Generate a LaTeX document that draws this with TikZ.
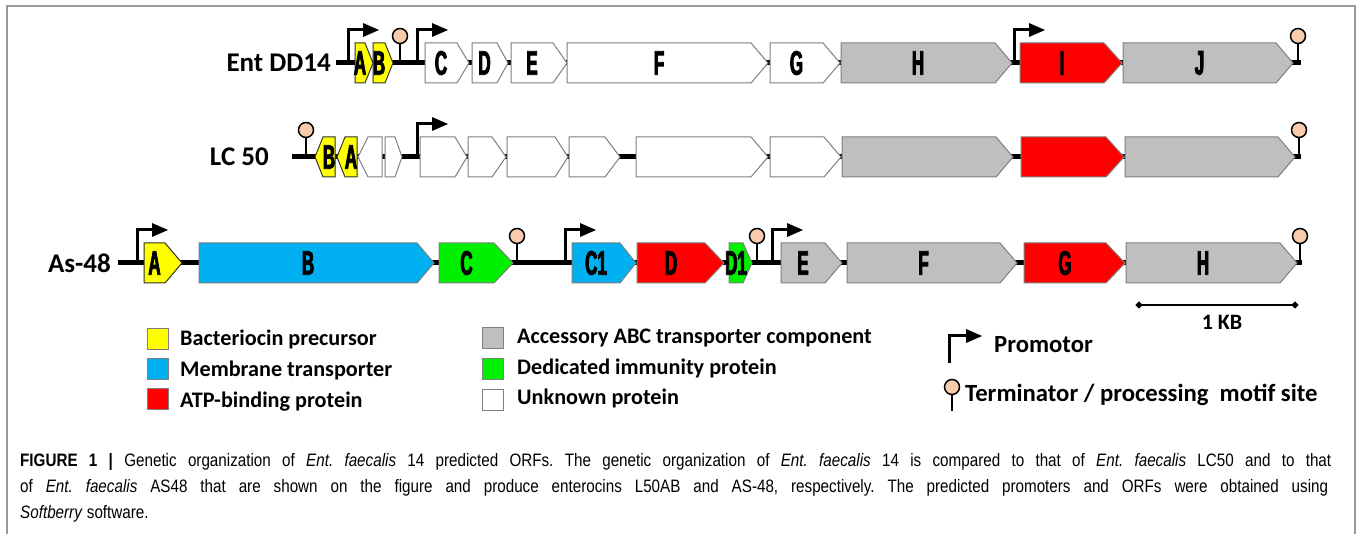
\documentclass[tikz,border=0pt]{standalone}
\usepackage{fontspec}
\setmainfont{Carlito}
\newfontfamily\genefont[FakeStretch=0.5,FakeBold=2.5]{Liberation Sans Bold}
\newfontfamily\capfont[FakeStretch=0.845]{Liberation Sans}
\usetikzlibrary{arrows.meta}
\definecolor{gyellow}{HTML}{FFFF00}
\definecolor{gblue}{HTML}{00B0F0}
\definecolor{gred}{HTML}{FF0000}
\definecolor{ggreen}{HTML}{00F000}
\definecolor{ggrey}{HTML}{BFBFBF}
\definecolor{gout}{HTML}{7F7F7F}
\definecolor{yout}{HTML}{303030}
\definecolor{peach}{HTML}{F8CBAD}
\tikzset{
  gene/.style={draw=gout, line width=1pt, line join=miter},
  glab/.style={font=\genefont\fontsize{34}{34}\selectfont, inner sep=0pt},
  backbone/.style={line width=5pt, black},
  promline/.style={line width=3pt, black},
  stemline/.style={line width=2pt, black},
  termc/.style={draw=black, line width=1.5pt, fill=peach},
  rowlab/.style={font=\bfseries\fontsize{27}{27}\selectfont, anchor=east, inner sep=0pt},
  legsq/.style={draw=gout, line width=1pt, minimum size=21pt, inner sep=0pt},
  legtxt/.style={font=\bfseries\fontsize{22.2}{22.2}\selectfont, anchor=west, inner sep=0pt},
  symtxt/.style={font=\bfseries\fontsize{24.7}{24.7}\selectfont, anchor=west, inner sep=0pt},
  captxt/.style={font=\capfont\fontsize{18}{18}\selectfont\frenchspacing, anchor=west, inner sep=0pt},
  framel/.style={draw=gray!80, line width=1.5pt}
}
% name, x0, x1, yc, head, fill, label
\newcommand\gfwd[7]{%
  \draw[gene,fill=#6] (#2,#4-20) -- (#3-#5,#4-20) -- (#3,#4) -- (#3-#5,#4+20) -- (#2,#4+20) -- cycle;
  \node[glab] (#1) at ({(#2+#3-#5)/2},#4) {#7};}
\newcommand\grev[7]{%
  \draw[gene,fill=#6] (#3,#4-20) -- (#2+#5,#4-20) -- (#2,#4) -- (#2+#5,#4+20) -- (#3,#4+20) -- cycle;
  \node[glab] (#1) at ({(#2+#5+#3)/2},#4) {#7};}
\newcommand\prom[2]{%
  \draw[promline] (#1,#2-2) -- (#1,#2-33) -- (#1+16,#2-33);
  \fill[black] (#1+15,#2-40) -- (#1+31,#2-33) -- (#1+15,#2-26) -- cycle;}
\newcommand\term[2]{%
  \draw[stemline] (#1,#2) -- (#1,#2-20);
  \draw[termc] (#1,#2-27) circle (7.5);}
\begin{document}
\begin{tikzpicture}[x=1pt,y=-1pt]
\useasboundingbox (0,0) rectangle (1360,534);
\fill[white] (0,0) rectangle (1360,534);
\draw[framel] (7,534) -- (7,6) -- (1355,6) -- (1355,534);

% ---------- Row 1: Ent DD14 ----------
\node[rowlab] (lab1) at (331,63) {Ent DD14};
\coordinate (r1s) at (336,63);
\coordinate (r1e) at (1301,63);
\draw[backbone] (r1s) -- (r1e);
\prom{348}{63}
\begin{scope}[gene/.append style={draw=yout}]
\gfwd{a1}{355}{373}{63}{8}{gyellow}{A}
\gfwd{b1}{373}{393}{63}{8}{gyellow}{B}
\end{scope}
\term{400}{63}
\prom{417}{63}
\gfwd{c1}{425}{469}{63}{12}{white}{C}
\gfwd{d1}{472}{508}{63}{11}{white}{D}
\gfwd{e1}{511}{567}{63}{14}{white}{E}
\gfwd{f1}{567}{768}{63}{17}{white}{F}
\gfwd{g1}{770}{840}{63}{17}{white}{G}
\gfwd{h1}{841}{1012}{63}{17}{ggrey}{H}
\prom{1014}{63}
\gfwd{i1}{1020}{1122}{63}{18}{gred}{I}
\gfwd{j1}{1123}{1293}{63}{17}{ggrey}{J}
\term{1298}{63}

% ---------- Row 2: LC 50 ----------
\node[rowlab] (lab2) at (269,157) {LC 50};
\coordinate (r2s) at (292,157);
\coordinate (r2e) at (1301,157);
\draw[backbone] (r2s) -- (r2e);
\term{306}{157}
\begin{scope}[gene/.append style={draw=yout}]
\grev{b2}{315}{335}{157}{8}{gyellow}{B}
\grev{a2}{337}{357}{157}{8}{gyellow}{A}
\end{scope}
\grev{u1}{358}{382}{157}{10}{white}{}
\gfwd{u2}{385}{402}{157}{7}{white}{}
\prom{417}{157}
\gfwd{u3}{420}{467}{157}{12}{white}{}
\gfwd{u4}{468}{506}{157}{14}{white}{}
\gfwd{u5}{507}{568}{157}{13}{white}{}
\gfwd{u6}{569}{620}{157}{15}{white}{}
\gfwd{u7}{636}{768}{157}{17}{white}{}
\gfwd{u8}{770}{841}{157}{17}{white}{}
\gfwd{h2}{842}{1013}{157}{17}{ggrey}{}
\gfwd{i2}{1021}{1124}{157}{18}{gred}{}
\gfwd{j2}{1125}{1295}{157}{17}{ggrey}{}
\term{1299}{157}

% ---------- Row 3: As-48 ----------
\node[rowlab] (lab3) at (111,263) {As-48};
\coordinate (r3s) at (118,263);
\coordinate (r3e) at (1302,263);
\draw[backbone] (r3s) -- (r3e);
\prom{137}{263}
\begin{scope}[gene/.append style={draw=yout}]
\gfwd{a3}{144}{182}{263}{17}{gyellow}{A}
\end{scope}
\gfwd{b3}{199}{434}{263}{17}{gblue}{B}
\gfwd{c3}{439}{513}{263}{19}{ggreen}{C}
\term{517}{263}
\prom{565}{263}
\gfwd{c13}{572}{636}{263}{16}{gblue}{C1}
\gfwd{d3}{637}{724}{263}{19}{gred}{D}
\gfwd{d13}{729}{752}{263}{9}{ggreen}{D1}
\term{757}{263}
\prom{772}{263}
\gfwd{e3}{781}{842}{263}{17}{ggrey}{E}
\gfwd{f3}{847}{1017}{263}{17}{ggrey}{F}
\gfwd{g3}{1024}{1125}{263}{19}{gred}{G}
\gfwd{h3}{1126}{1297}{263}{17}{ggrey}{H}
\term{1300}{263}

% ---------- scale bar ----------
\coordinate (sb1) at (1136,305);
\coordinate (sb2) at (1298,305);
\draw[line width=2.5pt, {Circle[length=6pt]}-{Circle[length=6pt]}] (sb1) -- (sb2);
\node[font=\bfseries\fontsize{22}{22}\selectfont, inner sep=0pt] (kb) at (1222,322) {1 KB};

% ---------- legend ----------
\node[legsq, fill=gyellow] (ly) at (157.5,339) {};
\node[legtxt] (lty) at (180,339) {Bacteriocin precursor};
\node[legsq, fill=gblue] (lb) at (157.5,369) {};
\node[legtxt] (ltb) at (180,370) {Membrane transporter};
\node[legsq, fill=gred] (lr) at (157.5,399) {};
\node[legtxt] (ltr) at (180,402) {ATP-binding protein};
\node[legsq, fill=ggrey] (lg) at (492.5,338) {};
\node[legtxt] (ltg) at (517,338) {Accessory ABC transporter component};
\node[legsq, fill=ggreen] (lgr) at (492.5,369) {};
\node[legtxt] (ltgr) at (517,368) {Dedicated immunity protein};
\node[legsq, fill=white] (lw) at (492.5,400) {};
\node[legtxt] (ltw) at (517,398) {Unknown protein};

% promoter / terminator symbols
\coordinate (pp) at (949,363);
\draw[promline] (pp) -- (949,336) -- (967,336);
\fill[black] (966,329) -- (982,336) -- (966,343) -- cycle;
\node[symtxt] (ptxt) at (994,345) {Promotor};
\coordinate (tp) at (952,411);
\draw[stemline] (tp) -- (952,394);
\draw[termc] (952,387) circle (7.5);
\node[symtxt] (ttxt) at (965,395) {Terminator / processing\ \ motif site};

% ---------- caption ----------
\node[captxt] (cap1) at (20,462) {\makebox[1311pt][s]{\textbf{FIGURE 1 |} Genetic organization of \textit{Ent. faecalis} 14 predicted ORFs. The genetic organization of \textit{Ent. faecalis} 14 is compared to that of \textit{Ent. faecalis} LC50 and to that}};
\node[captxt] (cap2) at (20,488) {\makebox[1308pt][s]{of \textit{Ent. faecalis} AS48 that are shown on the figure and produce enterocins L50AB and AS-48, respectively. The predicted promoters and ORFs were obtained using}};
\node[captxt] (cap3) at (20,514) {\textit{Softberry} software.};
\end{tikzpicture}
\end{document}
